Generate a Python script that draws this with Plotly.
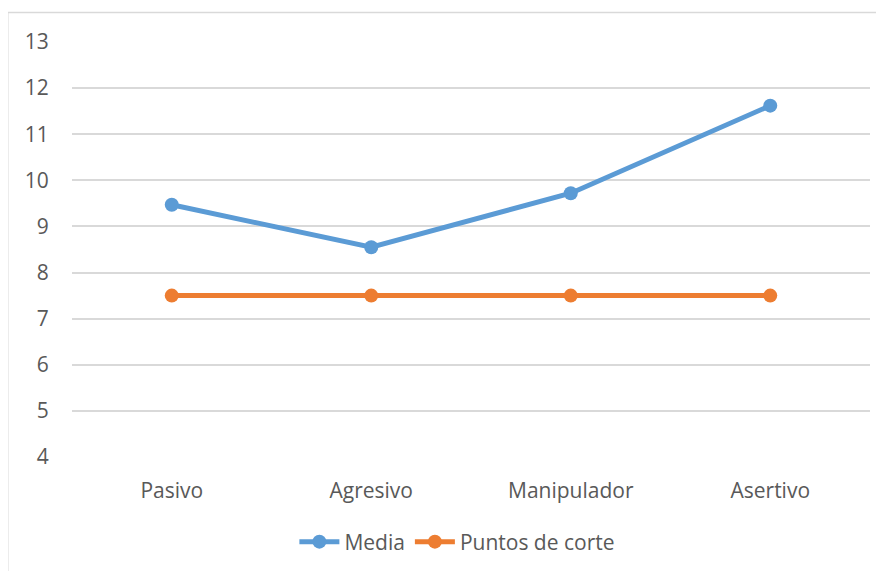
import plotly.graph_objects as go

categories = ["Pasivo", "Agresivo", "Manipulador", "Asertivo"]
media = [9.47, 8.55, 9.72, 11.62]
puntos_corte = [7.5, 7.5, 7.5, 7.5]
y_ticks = [4, 5, 6, 7, 8, 9, 10, 11, 12, 13]

FONT = "Open Sans"
TXT = "#595959"

fig = go.Figure()
fig.add_trace(go.Scatter(
    x=categories, y=media, name="Media", mode="lines+markers",
    line=dict(color="#5B9BD5", width=5),
    marker=dict(color="#5B9BD5", size=14)))
fig.add_trace(go.Scatter(
    x=categories, y=puntos_corte, name="Puntos de corte", mode="lines+markers",
    line=dict(color="#ED7D31", width=5),
    marker=dict(color="#ED7D31", size=14)))

# page body adds an 8px margin, so figure is 8px smaller on each axis
fig.update_layout(
    width=876, height=563,
    margin=dict(l=64, r=14, t=34, b=114),
    paper_bgcolor="white", plot_bgcolor="white",
    font=dict(family=FONT, color=TXT, size=21),
    showlegend=True,
    legend=dict(orientation="h", x=0.513, xanchor="center", xref="container",
                y=0.0515, yref="container", yanchor="middle",
                font=dict(family=FONT, color=TXT, size=21),
                itemwidth=40, tracegroupgap=0),
    xaxis=dict(type="category", range=[-0.5, 3.5], showgrid=False,
               showline=False, zeroline=False, ticks="outside", ticklen=15,
               tickcolor="rgba(0,0,0,0)",
               tickfont=dict(family=FONT, color=TXT, size=21)),
    yaxis=dict(range=[4, 13], tickvals=y_ticks, showgrid=True,
               gridcolor="#D9D9D9", gridwidth=1.5, zeroline=False,
               showline=False, ticks="outside", ticklen=18,
               tickcolor="rgba(0,0,0,0)",
               tickfont=dict(family=FONT, color=TXT, size=21)),
    shapes=[dict(type="rect", xref="paper", yref="paper",
                 x0=-0.0805, x1=1.05, y0=-0.35, y1=1.071,
                 line=dict(color="#D9D9D9", width=1.5), layer="below")],
)

fig.write_html("out.html")
